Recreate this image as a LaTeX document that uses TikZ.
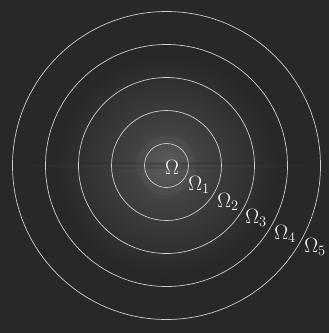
\documentclass[tikz,border=0pt]{standalone}
\usepackage{amsmath}
\usepackage{tikz}
\definecolor{specbg}{RGB}{40,40,40}
\definecolor{ringcol}{RGB}{205,205,205}

\begin{document}
\begin{tikzpicture}[
  x=1pt, y=-1pt,
  ring/.style={draw=ringcol, line width=0.7pt},
  lbl/.style={text=white, inner sep=0pt, font=\fontsize{22}{26}\selectfont}
]
% background spectrum
\fill[specbg] (0,0) rectangle (329,333);
\useasboundingbox (0,0) rectangle (329,333);
\coordinate (c) at (166.5,165.5);
\shade[inner color=specbg!82!white, outer color=specbg] (c) circle [radius=110pt];
\shade[inner color=specbg!70!white, outer color=specbg!82!white, opacity=0.6] (c) circle [radius=30pt];
\shade[inner color=specbg!78!white, outer color=specbg, opacity=0.5] (c) ellipse [x radius=150pt, y radius=3pt];

% rings
\foreach \r in {22,55,88,121,154}
  \draw[ring] (c) circle [radius=\r pt];

% labels
\node[lbl] (om)  at (172,167) {$\Omega$};
\node[lbl] (om1) at (199,185) {$\Omega_1$};
\node[lbl] (om2) at (228,202) {$\Omega_2$};
\node[lbl] (om3) at (256,218) {$\Omega_3$};
\node[lbl] (om4) at (285,234) {$\Omega_4$};
\node[lbl] (om5) at (315,247) {$\Omega_5$};
\end{tikzpicture}
\end{document}
